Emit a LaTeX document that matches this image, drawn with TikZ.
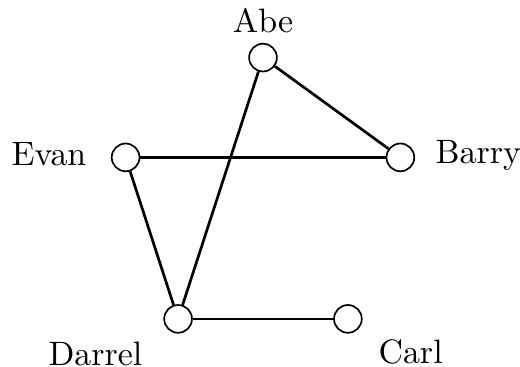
\documentclass[tikz,border=0pt]{standalone}
\tikzset{
  vertex/.style={circle,draw,fill=white,line width=0.5pt,inner sep=0pt,minimum size=8.2pt},
  edge/.style={draw,thick},
  namelabel/.style={inner sep=0pt},
}
\begin{document}
\begin{tikzpicture}
  \useasboundingbox (-2.731,-1.713) rectangle (2.669,2.098);
  % vertices on a pentagon
  \node[vertex] (abe)    at (90:1.5)  {};
  \node[vertex] (barry)  at (18:1.5)  {};
  \node[vertex] (carl)   at (-54:1.5) {};
  \node[vertex] (darrel) at (234:1.5) {};
  \node[vertex] (evan)   at (162:1.5) {};
  % names
  \node[namelabel, anchor=base]      (abeName)    at (0,1.765)       {Abe};
  \node[namelabel, anchor=base west] (barryName)  at (1.786,0.405)   {Barry};
  \node[namelabel, anchor=base west] (carlName)   at (1.194,-1.672)  {Carl};
  \node[namelabel, anchor=base east] (darrelName) at (-1.246,-1.693) {Darrel};
  \node[namelabel, anchor=base east] (evanName)   at (-1.828,0.384)  {Evan};
  % edges
  \draw[edge] (abe) -- (barry);
  \draw[edge] (abe) -- (darrel);
  \draw[edge] (evan) -- (barry);
  \draw[edge] (evan) -- (darrel);
  \draw[edge] (darrel) -- (carl);
\end{tikzpicture}
\end{document}
